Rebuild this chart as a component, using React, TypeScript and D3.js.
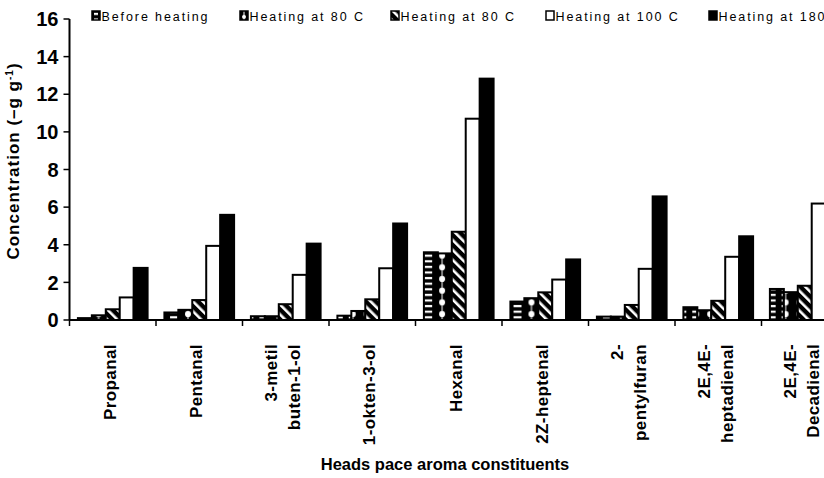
import { useEffect, useRef } from 'react';
import * as d3 from 'd3';

const categories = [
  'Propanal', 'Pentanal', '3-metil buten-1-ol', '1-okten-3-ol', 'Hexanal',
  '2Z-heptenal', '2-pentylfuran', '2E,4E-heptadienal', '2E,4E-Decadienal',
];
// how each category name is broken over lines under the axis
const tickLabels = [
  ['Propanal'], ['Pentanal'], ['3-metil', 'buten-1-ol'], ['1-okten-3-ol'], ['Hexanal'],
  ['2Z-heptenal'], ['2-', 'pentylfuran'], ['2E,4E-', 'heptadienal'], ['2E,4E-', 'Decadienal'],
];
const seriesNames = ['Before heating', 'Heating at 80 C', 'Heating at 80 C', 'Heating at 100 C', 'Heating at 180 C'];

const beforeHeating = [0.1, 0.4, 0.2, 0.23, 3.6, 0.98, 0.18, 0.68, 1.65];
const heating80a = [0.25, 0.54, 0.2, 0.48, 3.54, 1.16, 0.18, 0.52, 1.48];
const heating80b = [0.57, 1.06, 0.84, 1.1, 4.69, 1.47, 0.8, 1.02, 1.82];
const heating100 = [1.2, 3.94, 2.4, 2.75, 10.7, 2.15, 2.72, 3.36, 6.19];
const heating180 = [2.77, 5.59, 4.06, 5.13, 12.83, 3.22, 6.57, 4.45, 6.9];

const yTicks = [0, 2, 4, 6, 8, 10, 12, 14, 16];

type Fill = 'hstripe' | 'dots' | 'diag' | 'white' | 'black';
const fills: Fill[] = ['hstripe', 'dots', 'diag', 'white', 'black'];

const WIDTH = 824;
const HEIGHT = 478;
const FONT = '"Liberation Sans", Arial, sans-serif';

export default function App() {
  const svgRef = useRef<SVGSVGElement>(null);

  useEffect(() => {
    const svg = d3.select(svgRef.current);
    svg.selectAll('*').remove();

    const series = [beforeHeating, heating80a, heating80b, heating100, heating180];

    const left = 69.5;
    const band = 86.5;
    const x0 = d3.scaleBand<string>()
      .domain(categories)
      .range([left, left + band * categories.length])
      .padding(0);
    const x1 = d3.scaleBand<number>()
      .domain(d3.range(series.length))
      .range([8.4, band - 8.4]);
    const y = d3.scaleLinear().domain([0, 16]).range([320, 19]);

    const defs = svg.append('defs');
    let pid = 0;

    // every patterned rect gets its own pattern so stripes and dots line up with it
    const paint = (kind: Fill, rx: number, ry: number, w: number): string => {
      if (kind === 'white') return '#fff';
      if (kind === 'black') return '#000';
      const id = `pat-${pid++}`;
      if (kind === 'hstripe') {
        const inset = Math.min(3, w * 0.25);
        const p = defs.append('pattern').attr('id', id)
          .attr('patternUnits', 'userSpaceOnUse')
          .attr('x', rx).attr('y', ry).attr('width', w).attr('height', 5.6);
        p.append('rect').attr('width', w).attr('height', 5.6).attr('fill', '#000');
        p.append('rect').attr('x', inset).attr('y', 1.8)
          .attr('width', w - 2 * inset).attr('height', 2.2).attr('fill', '#fff');
      } else if (kind === 'dots') {
        const p = defs.append('pattern').attr('id', id)
          .attr('patternUnits', 'userSpaceOnUse')
          .attr('x', rx).attr('y', ry).attr('width', w).attr('height', 11.7);
        p.append('rect').attr('width', w).attr('height', 11.7).attr('fill', '#000');
        p.append('rect').attr('x', w / 2 - 0.5).attr('width', 1).attr('height', 11.7).attr('fill', '#fff');
        p.append('circle').attr('cx', w / 2).attr('cy', 5.8).attr('r', Math.min(3, w / 4)).attr('fill', '#fff');
      } else {
        const p = defs.append('pattern').attr('id', id)
          .attr('patternUnits', 'userSpaceOnUse')
          .attr('width', 7).attr('height', 7)
          .attr('patternTransform', `translate(${rx},${ry}) rotate(-45)`);
        p.append('rect').attr('width', 7).attr('height', 7).attr('fill', '#000');
        p.append('rect').attr('width', 2.6).attr('height', 7).attr('fill', '#fff');
      }
      return `url(#${id})`;
    };

    // bars
    const groups = svg.append('g')
      .selectAll('g')
      .data(categories)
      .join('g')
      .attr('transform', d => `translate(${x0(d)},0)`);

    groups.each(function (cat, ci) {
      const g = d3.select(this);
      series.forEach((vals, si) => {
        const bx = x1(si)!;
        const bw = x1.bandwidth();
        const absX = x0(cat)! + bx;
        g.append('rect')
          .attr('x', bx)
          .attr('y', y(vals[ci]))
          .attr('width', bw)
          .attr('height', y(0) - y(vals[ci]))
          .attr('fill', paint(fills[si], absX, y(0), bw))
          .attr('stroke', '#000')
          .attr('stroke-width', 2);
      });
    });

    // y axis
    const yAxis = svg.append('g');
    yAxis.append('line')
      .attr('x1', left).attr('x2', left)
      .attr('y1', y(16)).attr('y2', y(0))
      .attr('stroke', '#000').attr('stroke-width', 2);
    yAxis.selectAll('line.tick')
      .data(yTicks)
      .join('line')
      .attr('class', 'tick')
      .attr('x1', left - 6).attr('x2', left)
      .attr('y1', d => y(d)).attr('y2', d => y(d))
      .attr('stroke', '#000').attr('stroke-width', 1.5);
    yAxis.selectAll('text')
      .data(yTicks)
      .join('text')
      .attr('x', left - 11)
      .attr('y', d => y(d))
      .attr('dy', '0.36em')
      .attr('text-anchor', 'end')
      .style('font-family', FONT)
      .style('font-size', '20px')
      .style('font-weight', 'bold')
      .text(d => d);

    // x axis
    const xAxis = svg.append('g');
    xAxis.append('line')
      .attr('x1', left).attr('x2', WIDTH + 30)
      .attr('y1', y(0)).attr('y2', y(0))
      .attr('stroke', '#000').attr('stroke-width', 2);
    xAxis.selectAll('line.tick')
      .data(categories)
      .join('line')
      .attr('class', 'tick')
      .attr('x1', d => x0(d)!).attr('x2', d => x0(d)!)
      .attr('y1', y(0)).attr('y2', y(0) + 6)
      .attr('stroke', '#000').attr('stroke-width', 1.5);

    categories.forEach((cat, ci) => {
      const lines = tickLabels[ci];
      const cx = x0(cat)! + band / 2 - 3;
      lines.forEach((line, li) => {
        const lx = cx + (li - (lines.length - 1) / 2) * 23;
        xAxis.append('text')
          .attr('transform', `translate(${lx},344) rotate(-90)`)
          .attr('dy', '0.36em')
          .attr('text-anchor', 'end')
          .style('font-family', FONT)
          .style('font-size', '17px')
          .style('font-weight', 'bold')
          .style('letter-spacing', '0.4px')
          .text(line);
      });
    });

    // axis titles
    svg.append('text')
      .attr('x', 445).attr('y', 470)
      .attr('text-anchor', 'middle')
      .style('font-family', FONT)
      .style('font-size', '16.5px')
      .style('font-weight', 'bold')
      .text('Heads pace aroma constituents');

    const yTitle = svg.append('text')
      .attr('transform', 'translate(19,161) rotate(-90)')
      .attr('text-anchor', 'middle')
      .style('font-family', FONT)
      .style('font-size', '17px')
      .style('font-weight', 'bold')
      .style('letter-spacing', '1px');
    yTitle.append('tspan').text('Concentration (–g g');
    yTitle.append('tspan').attr('dy', -6).style('font-size', '10px').text('-1');
    yTitle.append('tspan').attr('dy', 6).text(')');

    // legend
    const legendX = [92, 240, 391, 546, 709];
    const legend = svg.append('g');
    seriesNames.forEach((name, i) => {
      const mx = legendX[i];
      legend.append('rect')
        .attr('x', mx).attr('y', 11)
        .attr('width', 8).attr('height', 9)
        .attr('fill', paint(fills[i], mx, 11, 8))
        .attr('stroke', '#000').attr('stroke-width', 1.5);
      legend.append('text')
        .attr('x', mx + 9.5).attr('y', 21)
        .style('font-family', FONT)
        .style('font-size', '12.5px')
        .style('letter-spacing', '1.9px')
        .text(name);
    });
  }, []);

  return (
    <svg
      ref={svgRef}
      width={WIDTH}
      height={HEIGHT}
      style={{ position: 'absolute', left: 0, top: 0, background: '#fff' }}
    />
  );
}
